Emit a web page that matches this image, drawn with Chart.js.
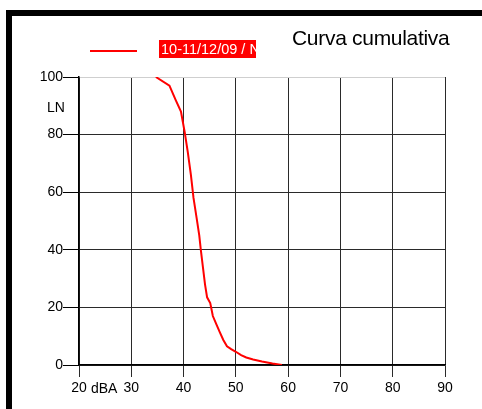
<!DOCTYPE html>
<html>
<head>
<meta charset="utf-8">
<script src="https://cdn.jsdelivr.net/npm/chart.js@4/dist/chart.umd.min.js"></script>
<style>
  html, body { margin: 0; padding: 0; background: #fff; }
  body { width: 482px; height: 409px; position: relative; overflow: hidden; font-family: "Liberation Sans", Arial, sans-serif; }
  #frame { position: absolute; left: 6px; top: 10px; width: 520px; height: 440px; border: 6px solid #000; box-sizing: border-box; }
  #wrap { position: absolute; left: 0; top: 0; width: 482px; height: 409px; }
  #title { position: absolute; left: 292px; top: 26px; font-size: 21px; color: #000; white-space: nowrap; letter-spacing: -0.3px; }
  #legLine { position: absolute; left: 90px; top: 50px; width: 47px; height: 2px; background: #ff0000; }
  #legBox { position: absolute; left: 159px; top: 40px; width: 97px; height: 18px; background: #ff0000; overflow: hidden; }
  #legText { position: absolute; left: 2px; top: 1px; font-size: 14.5px; color: #fff; white-space: nowrap; line-height: 16px; }
  .lab { position: absolute; font-size: 14px; color: #000; white-space: nowrap; line-height: 16px; }
</style>
</head>
<body>
<div id="frame"></div>
<div id="wrap"><canvas id="c" width="482" height="409"></canvas></div>
<div id="title"></div>
<div id="legLine"></div>
<div id="legBox"><div id="legText"></div></div>
<div class="lab" id="yUnit" style="left:47px; top:99px;"></div>
<div class="lab" id="xUnit" style="left:91px; top:380px;"></div>
<script>
// ---- data ----
const chartTitle = "Curva cumulativa";
const seriesLabel = "10-11/12/09 / N";
const xAxisUnit = "dBA";
const yAxisUnit = "LN";
const levels = [34.7, 37.3, 38.5, 39.5, 40.2, 40.8, 41.4, 41.9, 42.5, 43.0, 43.3, 43.7, 44.1, 44.5, 45.1, 45.6, 46.3, 46.9, 47.6, 48.3, 49.1, 50.0, 51.0, 52.0, 53.3, 55.0, 57.0, 58.8];
const cumulative = [100, 97, 92, 88, 81, 74, 66, 58, 51, 45, 40, 34, 28, 23.5, 21.5, 17, 14, 11.5, 8.7, 6.5, 5.5, 4.6, 3.4, 2.6, 1.9, 1.2, 0.5, 0];
const xTicks = [20, 30, 40, 50, 60, 70, 80, 90];
const yTicks = [0, 20, 40, 60, 80, 100];

document.getElementById('title').textContent = chartTitle;
document.getElementById('legText').textContent = seriesLabel;
document.getElementById('yUnit').textContent = yAxisUnit;
document.getElementById('xUnit').textContent = xAxisUnit;

const pts = levels.map((x, i) => ({ x: x, y: cumulative[i] }));
const font = { family: "'Liberation Sans', Arial, sans-serif", size: 14 };

new Chart(document.getElementById('c'), {
  type: 'line',
  data: {
    datasets: [{
      label: seriesLabel,
      data: pts,
      borderColor: '#ff0000',
      borderWidth: 2,
      pointRadius: 0,
      tension: 0,
      fill: false
    }]
  },
  options: {
    responsive: false,
    animation: false,
    layout: { padding: { left: 0, right: 37, top: 77, bottom: 14 } },
    plugins: { legend: { display: false }, title: { display: false }, tooltip: { enabled: false } },
    scales: {
      x: {
        type: 'linear',
        min: xTicks[0], max: xTicks[xTicks.length - 1],
        afterBuildTicks: s => { s.ticks = xTicks.map(v => ({ value: v })); },
        afterFit: s => { s.height = 30; },
        ticks: { color: '#000', font: font, padding: 3, maxRotation: 0 },
        grid: { color: '#2a2a2a', lineWidth: 1, tickLength: 12, tickColor: '#2a2a2a' },
        border: { color: '#000', width: 1.5 }
      },
      y: {
        min: yTicks[0], max: yTicks[yTicks.length - 1],
        afterBuildTicks: s => { s.ticks = yTicks.map(v => ({ value: v })); },
        afterFit: s => { s.width = 79; },
        ticks: { color: '#000', font: font, padding: 0 },
        grid: {
          color: c => (c.tick && c.tick.value === 100) ? '#cfcfcf' : '#2a2a2a',
          lineWidth: 1, tickLength: 16, tickColor: '#000'
        },
        border: { color: '#000', width: 1.5 }
      }
    }
  }
});
</script>
</body>
</html>
